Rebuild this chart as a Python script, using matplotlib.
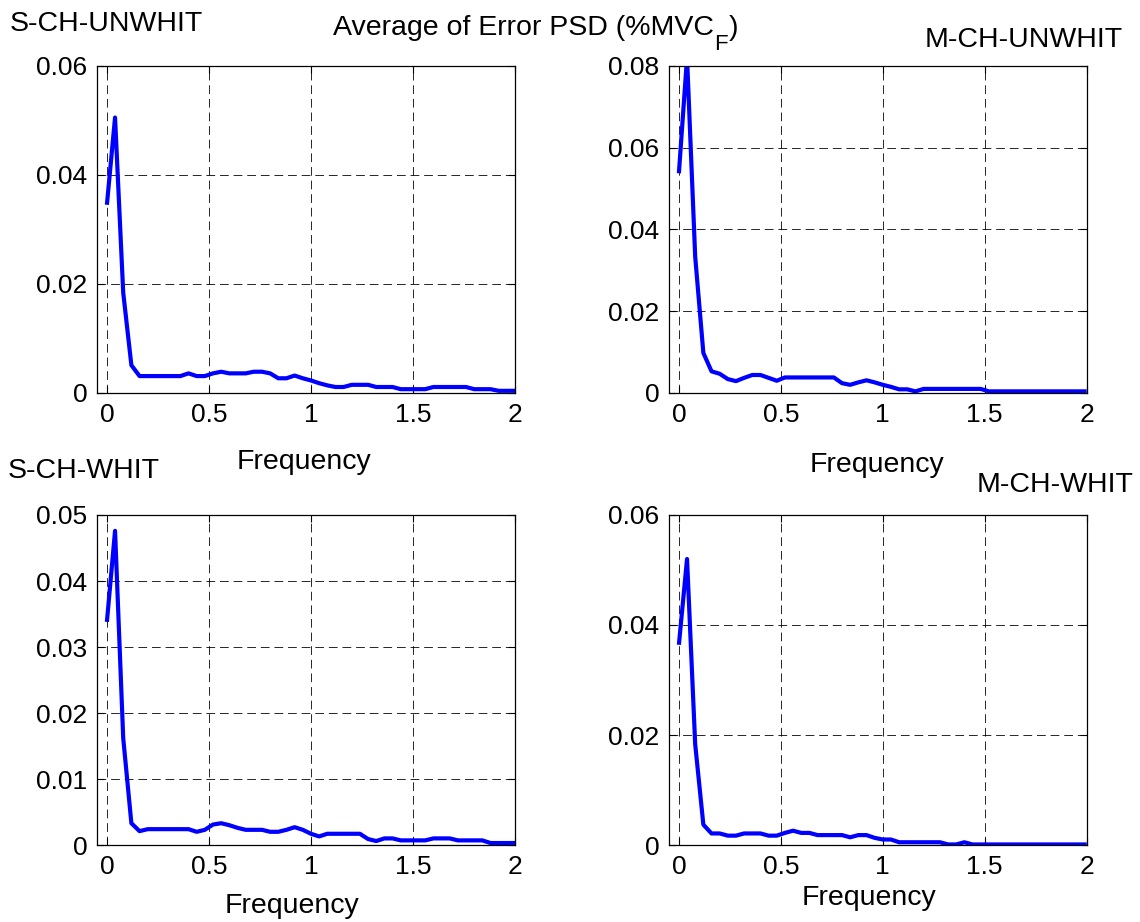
import matplotlib
matplotlib.use("Agg")
import matplotlib.pyplot as plt
import numpy as np

plt.rcParams['font.family'] = ['Liberation Sans', 'DejaVu Sans']

W, H = 1140, 922

freq = [0.00, 0.04, 0.08, 0.12, 0.16, 0.20, 0.24, 0.28, 0.32, 0.36,
        0.40, 0.44, 0.48, 0.52, 0.56, 0.60, 0.64, 0.68, 0.72, 0.76,
        0.80, 0.84, 0.88, 0.92, 0.96, 1.00, 1.04, 1.08, 1.12, 1.16,
        1.20, 1.24, 1.28, 1.32, 1.36, 1.40, 1.44, 1.48, 1.52, 1.56,
        1.60, 1.64, 1.68, 1.72, 1.76, 1.80, 1.84, 1.88, 1.92, 1.96, 2.00]

s_ch_unwhit = [0.0345, 0.0505, 0.0184, 0.0051, 0.0031, 0.0031, 0.0031, 0.0031, 0.0031, 0.0031,
               0.0036, 0.0031, 0.0031, 0.0036, 0.0039, 0.0036, 0.0036, 0.0036, 0.0039, 0.0039,
               0.0036, 0.0027, 0.0027, 0.0032, 0.0027, 0.0023, 0.0018, 0.0014, 0.0011, 0.0011,
               0.0015, 0.0015, 0.0015, 0.0011, 0.0011, 0.0011, 0.0007, 0.0007, 0.0007, 0.0007,
               0.0011, 0.0011, 0.0011, 0.0011, 0.0011, 0.0007, 0.0007, 0.0007, 0.0004, 0.0004, 0.0004]

m_ch_unwhit = [0.0537, 0.0820, 0.0333, 0.0098, 0.0053, 0.0047, 0.0034, 0.0029, 0.0037, 0.0044,
               0.0044, 0.0037, 0.0030, 0.0038, 0.0038, 0.0038, 0.0038, 0.0038, 0.0038, 0.0038,
               0.0024, 0.0020, 0.0026, 0.0031, 0.0026, 0.0020, 0.0015, 0.0009, 0.0009, 0.0004,
               0.0010, 0.0010, 0.0010, 0.0010, 0.0010, 0.0010, 0.0010, 0.0010, 0.0004, 0.0004,
               0.0004, 0.0004, 0.0004, 0.0004, 0.0004, 0.0004, 0.0004, 0.0004, 0.0004, 0.0004, 0.0004]

s_ch_whit = [0.0338, 0.0476, 0.0162, 0.0033, 0.0021, 0.0024, 0.0024, 0.0024, 0.0024, 0.0024,
             0.0024, 0.0020, 0.0023, 0.0031, 0.0033, 0.0030, 0.0026, 0.0023, 0.0023, 0.0023,
             0.0020, 0.0020, 0.0023, 0.0027, 0.0023, 0.0017, 0.0013, 0.0017, 0.0017, 0.0017,
             0.0017, 0.0017, 0.0009, 0.0006, 0.0010, 0.0010, 0.0007, 0.0007, 0.0007, 0.0007,
             0.0010, 0.0010, 0.0010, 0.0007, 0.0007, 0.0007, 0.0007, 0.0003, 0.0003, 0.0003, 0.0003]

m_ch_whit = [0.0364, 0.0520, 0.0183, 0.0037, 0.0021, 0.0021, 0.0017, 0.0017, 0.0021, 0.0021,
             0.0021, 0.0017, 0.0017, 0.0022, 0.0026, 0.0022, 0.0022, 0.0018, 0.0018, 0.0018,
             0.0018, 0.0014, 0.0018, 0.0018, 0.0013, 0.0010, 0.0010, 0.0005, 0.0005, 0.0005,
             0.0005, 0.0005, 0.0005, 0.0001, 0.0001, 0.0005, 0.0001, 0.0001, 0.0001, 0.0001,
             0.0001, 0.0001, 0.0001, 0.0001, 0.0001, 0.0001, 0.0001, 0.0001, 0.0001, 0.0001, 0.0001]

x_ticks = [0, 0.5, 1, 1.5, 2]
x_ticklabels = ['0', '0.5', '1', '1.5', '2']

panels = [
    dict(y=s_ch_unwhit, ylim=0.06, yticks=[0, 0.02, 0.04, 0.06],
         ylabels=['0', '0.02', '0.04', '0.06'], rect=(97.3, 65.7, 515, 393)),
    dict(y=m_ch_unwhit, ylim=0.08, yticks=[0, 0.02, 0.04, 0.06, 0.08],
         ylabels=['0', '0.02', '0.04', '0.06', '0.08'], rect=(669.3, 65.7, 1086.7, 393)),
    dict(y=s_ch_whit, ylim=0.05, yticks=[0, 0.01, 0.02, 0.03, 0.04, 0.05],
         ylabels=['0', '0.01', '0.02', '0.03', '0.04', '0.05'], rect=(97.3, 515, 515, 845)),
    dict(y=m_ch_whit, ylim=0.06, yticks=[0, 0.02, 0.04, 0.06],
         ylabels=['0', '0.02', '0.04', '0.06'], rect=(669.3, 515, 1086.7, 845)),
]

fig = plt.figure(figsize=(W / 100, H / 100), dpi=100)

for p in panels:
    x0, y0, x1, y1 = p['rect']
    ax = fig.add_axes([x0 / W, 1 - y1 / H, (x1 - x0) / W, (y1 - y0) / H])
    ax.plot(freq, p['y'], color='#0000ff', lw=3, solid_joinstyle='round', solid_capstyle='butt')
    ax.set_xlim(-0.047, 2)
    ax.set_ylim(0, p['ylim'])
    ax.set_xticks(x_ticks)
    ax.set_xticklabels(x_ticklabels)
    ax.set_yticks(p['yticks'])
    ax.set_yticklabels(p['ylabels'])
    ax.tick_params(direction='in', top=True, right=True, length=5, width=0.8,
                   labelsize=19, color='k')
    ax.tick_params(axis='y', pad=7)
    ax.tick_params(axis='x', pad=7)
    ax.grid(True, color='k', lw=0.7, linestyle=(0, (9, 5)), alpha=0.85)
    for s in ax.spines.values():
        s.set_linewidth(0.9)
        s.set_color('k')

def ftext(x, y, s, size=20.5):
    return fig.text(x / W, 1 - y / H, s, fontsize=size, va='baseline', ha='left')

ftext(10, 31, 'S-CH-UNWHIT')
ftext(925, 47, 'M-CH-UNWHIT')
ftext(237, 469, 'Frequency')
ftext(810, 472, 'Frequency')
ftext(8, 478, 'S-CH-WHIT')
ftext(977, 492, 'M-CH-WHIT')
ftext(225, 913, 'Frequency')
ftext(802, 905, 'Frequency')

# Title with a deep subscript F, as in the reference
renderer = fig.canvas.get_renderer()
t1 = ftext(333, 35, 'Average of Error PSD (%MVC')
w1 = t1.get_window_extent(renderer).width
t2 = ftext(333 + w1, 50, 'F', size=16)
w2 = t2.get_window_extent(renderer).width
ftext(333 + w1 + w2 + 1, 35, ')')

fig.savefig('out.png', dpi=100, facecolor='white')
